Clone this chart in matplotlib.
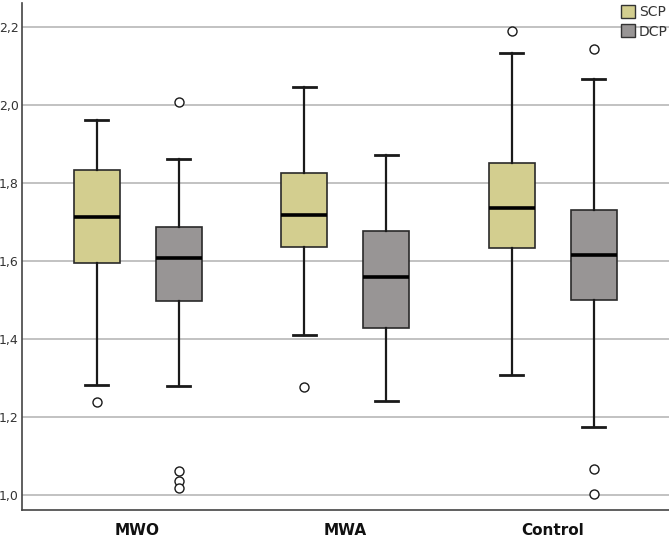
import matplotlib
matplotlib.use("Agg")
import matplotlib.pyplot as plt
from matplotlib.patches import Patch
from matplotlib.ticker import FuncFormatter

groups = ["MWO", "MWA", "Control"]
series = ["SCP", "DCP"]

# five-number summaries per group: [whislo, q1, med, q3, whishi]
scp_stats = [
    [1.282, 1.596, 1.712, 1.834, 1.963],
    [1.410, 1.637, 1.718, 1.827, 2.047],
    [1.308, 1.633, 1.737, 1.852, 2.134],
]
dcp_stats = [
    [1.280, 1.497, 1.609, 1.687, 1.862],
    [1.241, 1.428, 1.559, 1.678, 1.872],
    [1.174, 1.499, 1.616, 1.731, 2.067],
]
scp_outliers = [[1.238], [1.276], [2.191]]
dcp_outliers = [[2.007, 1.062, 1.037, 1.017], [], [2.144, 1.067, 1.003]]

colors = {"SCP": "#d3ce8f", "DCP": "#989595"}

fig = plt.figure(figsize=(6.69, 5.45), dpi=100)
ax = fig.add_axes([0.0324, 0.0635, 0.9676, 0.9301])

offset = 0.1975
width = 0.2216

def make_stats(s, out):
    return [dict(whislo=a[0], q1=a[1], med=a[2], q3=a[3], whishi=a[4], fliers=f)
            for a, f in zip(s, out)]

for name, stats, outs, sign in [("SCP", scp_stats, scp_outliers, -1),
                                ("DCP", dcp_stats, dcp_outliers, 1)]:
    pos = [i + sign * offset for i in range(len(groups))]
    ax.bxp(make_stats(stats, outs), positions=pos, widths=width,
           patch_artist=True, manage_ticks=False,
           boxprops=dict(facecolor=colors[name], edgecolor="#2a2a2a", linewidth=1.2),
           medianprops=dict(color="black", linewidth=2.6),
           whiskerprops=dict(color="#1a1a1a", linewidth=1.6),
           capprops=dict(color="#1a1a1a", linewidth=2.0),
           capwidths=width * 0.5,
           flierprops=dict(marker="o", markerfacecolor="white",
                           markeredgecolor="#1a1a1a", markersize=6.5,
                           markeredgewidth=1.0, linestyle="none"),
           zorder=3)

ax.set_xlim(-0.558, 2.56)
ax.set_ylim(0.9605, 2.261)
ax.set_yticks([1.0, 1.2, 1.4, 1.6, 1.8, 2.0, 2.2])
ax.yaxis.set_major_formatter(FuncFormatter(lambda v, p: f"{v:.1f}".replace(".", ",")))
ax.set_xticks(range(len(groups)))
ax.set_xticklabels(groups, fontsize=11, fontweight="bold", color="#111111")
ax.tick_params(axis="both", length=0)
ax.tick_params(axis="y", labelsize=9, labelcolor="#333333", pad=2)
ax.tick_params(axis="x", pad=9)
ax.grid(axis="y", color="#b8b8b8", linewidth=1.2, zorder=0)
ax.set_axisbelow(True)
for s in ["top", "right"]:
    ax.spines[s].set_visible(False)
for s in ["left", "bottom"]:
    ax.spines[s].set_color("#444444")
    ax.spines[s].set_linewidth(1.2)

handles = [Patch(facecolor=colors[n], edgecolor="#333333", linewidth=1.0, label=n) for n in series]
leg = ax.legend(handles=handles, loc="upper right", bbox_to_anchor=(1.0, 1.0),
                frameon=False, fontsize=10, handlelength=1.0, handleheight=1.1,
                handletextpad=0.25, labelspacing=0.35, borderaxespad=0.1,
                borderpad=0.0)
for t in leg.get_texts():
    t.set_color("#333333")

fig.savefig("out.png", dpi=100)
